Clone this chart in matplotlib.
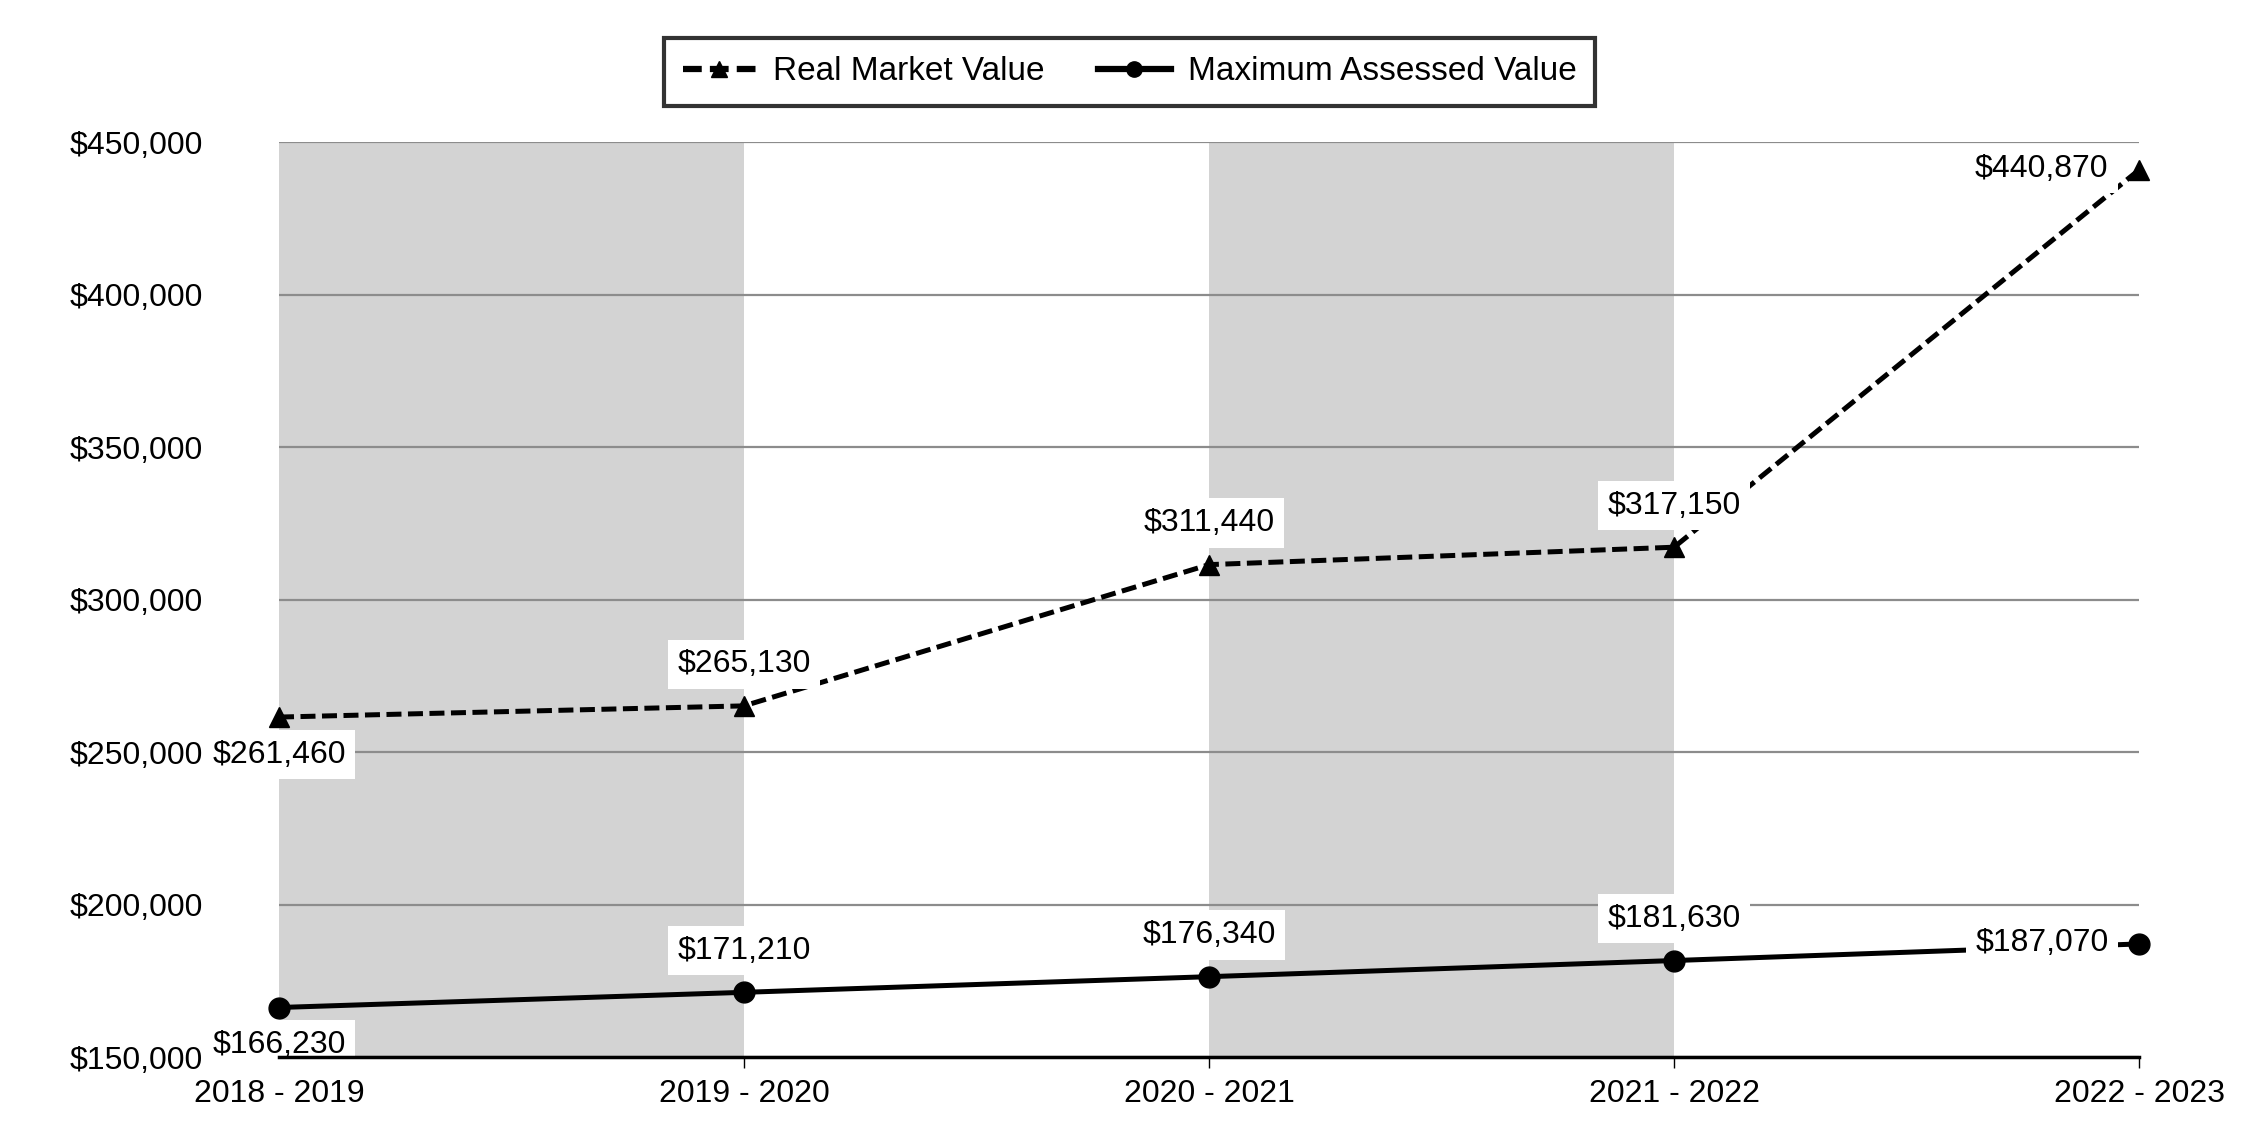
import matplotlib
matplotlib.use("Agg")
import matplotlib.pyplot as plt
from matplotlib.ticker import FuncFormatter

plt.rcParams['font.family'] = ['Liberation Sans', 'DejaVu Sans']

categories = ["2018 - 2019", "2019 - 2020", "2020 - 2021", "2021 - 2022", "2022 - 2023"]
real_market = [261460, 265130, 311440, 317150, 440870]
max_assessed = [166230, 171210, 176340, 181630, 187070]
yticks = [150000, 200000, 250000, 300000, 350000, 400000, 450000]

# label placement: (dx, dy) in points, ha
rmv_offsets = [(0, -27, 'center'), (0, 30, 'center'), (0, 30, 'center'), (0, 30, 'center'), (-22, 1, 'right')]
mav_offsets = [(0, -27, 'center'), (0, 30, 'center'), (0, 30, 'center'), (0, 30, 'center'), (-22, 1, 'right')]

FS = 23
fig = plt.figure(figsize=(22.5, 11.4), dpi=100)
ax = fig.add_axes([0.124, 0.0728, 0.8267, 0.8026])

x = list(range(len(categories)))
# shaded bands
for i in range(0, len(categories) - 1, 2):
    ax.axvspan(x[i], x[i + 1], color='#d3d3d3', zorder=0, lw=0)

for yv in yticks:
    ax.axhline(yv, color='#8c8c8c', lw=1.6, zorder=1)

ax.plot(x, real_market, color='black', lw=3.6, dashes=(3, 1.3), marker='^', markersize=15,
        label='Real Market Value', zorder=3, clip_on=False)
ax.plot(x, max_assessed, color='black', lw=3.6, marker='o', markersize=15,
        label='Maximum Assessed Value', zorder=3, clip_on=False)

bbox = dict(boxstyle='square,pad=0.3', fc='white', ec='none')
for xi, v, (dx, dy, ha) in zip(x, real_market, rmv_offsets):
    ax.annotate(f"${v:,}", (xi, v), xytext=(dx, dy), textcoords='offset points',
                ha=ha, va='center', fontsize=FS, bbox=bbox, zorder=4)
for xi, v, (dx, dy, ha) in zip(x, max_assessed, mav_offsets):
    ax.annotate(f"${v:,}", (xi, v), xytext=(dx, dy), textcoords='offset points',
                ha=ha, va='center', fontsize=FS, bbox=bbox, zorder=4)

ax.set_xlim(x[0], x[-1])
ax.set_ylim(150000, 450000)
ax.set_yticks(yticks)
ax.yaxis.set_major_formatter(FuncFormatter(lambda v, p: f"${int(v):,}"))
ax.set_xticks(x)
ax.set_xticklabels(categories)
ax.tick_params(axis='y', length=0, pad=55, labelsize=FS)
ax.tick_params(axis='x', length=8, width=1, pad=8, labelsize=FS, direction='out')

for s in ['top', 'right', 'left']:
    ax.spines[s].set_visible(False)
ax.spines['bottom'].set_linewidth(2.5)
ax.spines['bottom'].set_zorder(5)
ax.set_facecolor('white')

leg = fig.legend(loc='center', bbox_to_anchor=(0.502, 0.937), ncol=2, fontsize=24,
                 frameon=True, fancybox=False, edgecolor='black', handlelength=2.2,
                 columnspacing=1.6, handletextpad=0.5, borderpad=0.55, borderaxespad=0)
leg.get_frame().set_linewidth(3)
for line in leg.get_lines():
    line.set_markersize(11)
    line.set_linewidth(4.5)

fig.savefig('out.png', dpi=100)
